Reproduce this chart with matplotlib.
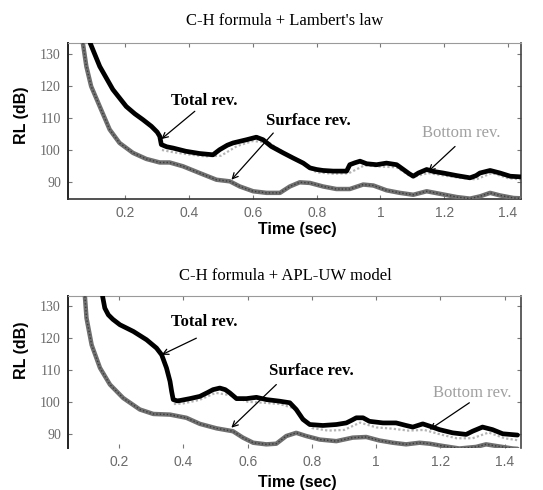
"""Reverberation level vs time: two scattering models, total / surface / bottom rev."""
import matplotlib
matplotlib.use("Agg")
import matplotlib.pyplot as plt

SERIF = "Liberation Serif"
SANS = "Liberation Sans"

# ---- upper panel: C-H formula + Lambert's law ----
t_total_a = [0.09, 0.12, 0.161, 0.203, 0.23, 0.255, 0.282, 0.3, 0.308, 0.313, 0.33, 0.35,
             0.39, 0.433, 0.475, 0.496, 0.52, 0.538, 0.58, 0.611, 0.632, 0.658, 0.695,
             0.726, 0.758, 0.779, 0.8, 0.82, 0.852, 0.894, 0.904, 0.92, 0.936, 0.957,
             0.988, 1.019, 1.051, 1.072, 1.09, 1.103, 1.119, 1.145, 1.166, 1.197, 1.239,
             1.281, 1.3, 1.312, 1.344, 1.375, 1.407, 1.44]
rl_total_a = [133.4, 126.1, 118.9, 113.6, 111.3, 109.5, 107.4, 105.6, 104.3, 101.7, 101.0,
              100.6, 99.6, 98.9, 98.5, 100.1, 101.5, 102.2, 103.2, 104.0, 103.2, 101.1,
              99.1, 97.5, 95.9, 94.4, 93.9, 93.6, 93.4, 93.4, 95.4, 96.0, 96.5, 95.7,
              95.4, 95.9, 95.4, 93.9, 92.6, 91.8, 92.8, 93.9, 93.3, 92.8, 92.0,
              91.3, 92.0, 92.8, 93.6, 92.8, 91.8, 91.6]

t_surf_a = [0.067, 0.078, 0.093, 0.12, 0.151, 0.182, 0.224, 0.266, 0.308, 0.339, 0.381,
            0.433, 0.486, 0.528, 0.559, 0.601, 0.643, 0.685, 0.716, 0.747, 0.779,
            0.82, 0.862, 0.904, 0.946, 0.978, 1.019, 1.061, 1.103, 1.145, 1.187,
            1.239, 1.281, 1.312, 1.344, 1.375, 1.417, 1.44]
rl_surf_a = [133.4, 126.1, 119.9, 113.6, 106.4, 102.2, 99.1, 97.2, 96.1, 96.1, 94.9,
             92.8, 90.7, 90.2, 88.6, 87.1, 86.6, 86.6, 88.6, 89.9, 89.7,
             88.6, 87.8, 87.8, 89.2, 88.9, 87.4, 86.6, 86.0, 87.1, 86.3,
             85.3, 84.8, 85.5, 86.6, 85.8, 85.0, 84.9]

t_bot_a = [0.315, 0.35, 0.4, 0.45, 0.5, 0.55, 0.6, 0.65, 0.7, 0.75, 0.8, 0.85, 0.9,
           0.95, 1.0, 1.05, 1.1, 1.15, 1.2, 1.25, 1.3, 1.35, 1.4, 1.44]
rl_bot_a = [100.0, 99.3, 98.6, 98.0, 98.2, 101.2, 102.8, 102.3, 99.0, 96.2, 93.0, 92.6,
            92.7, 95.2, 94.8, 94.6, 91.5, 92.8, 92.0, 91.3, 90.8, 92.8, 91.2, 90.8]

# ---- lower panel: C-H formula + APL-UW model ----
t_total_b = [0.148, 0.155, 0.166, 0.18, 0.202, 0.244, 0.285, 0.316, 0.332, 0.347, 0.358,
             0.363, 0.368, 0.38, 0.389, 0.42, 0.451, 0.475, 0.492, 0.513, 0.53, 0.544,
             0.565, 0.596, 0.627, 0.658, 0.699, 0.731, 0.751, 0.772, 0.793, 0.834,
             0.876, 0.907, 0.925, 0.938, 0.959, 0.979, 1.021, 1.062, 1.093, 1.114,
             1.145, 1.166, 1.197, 1.238, 1.28, 1.3, 1.331, 1.362, 1.394, 1.44]
rl_total_b = [133.0, 129.3, 127.2, 125.8, 124.1, 122.0, 119.4, 116.8, 114.7, 110.6, 106.4,
              103.3, 100.7, 100.3, 100.4, 101.0, 101.7, 102.9, 103.8, 104.3, 103.8, 102.8,
              101.0, 101.0, 101.4, 100.7, 100.2, 99.7, 97.6, 94.5, 92.9, 92.6,
              92.9, 93.4, 94.3, 95.0, 95.0, 93.9, 93.4, 93.4, 92.6, 92.1,
              93.1, 92.4, 91.3, 90.3, 89.8, 90.8, 92.1, 91.3, 90.0, 89.6]

t_surf_b = [0.093, 0.098, 0.114, 0.14, 0.171, 0.212, 0.264, 0.306, 0.358, 0.409,
            0.451, 0.503, 0.554, 0.585, 0.617, 0.658, 0.689, 0.72, 0.751, 0.782,
            0.824, 0.876, 0.927, 0.969, 1.01, 1.052, 1.093, 1.135, 1.166, 1.207,
            1.259, 1.311, 1.342, 1.373, 1.425, 1.44]
rl_surf_b = [133.0, 126.2, 117.8, 110.6, 105.4, 101.2, 97.6, 96.2, 96.0, 95.0,
             93.1, 91.7, 90.8, 88.8, 87.2, 86.7, 86.9, 89.3, 90.3, 89.3,
             88.2, 87.7, 88.8, 89.0, 87.9, 87.2, 86.7, 87.2, 86.9, 86.2,
             85.4, 85.9, 86.7, 86.2, 85.4, 85.3]

t_bot_b = [0.37, 0.4, 0.45, 0.5, 0.55, 0.6, 0.65, 0.7, 0.75, 0.8, 0.85, 0.9, 0.95,
           1.0, 1.05, 1.1, 1.15, 1.2, 1.25, 1.3, 1.35, 1.4, 1.44]
rl_bot_b = [99.3, 99.5, 100.6, 102.8, 102.0, 100.0, 99.7, 99.3, 97.8, 91.8, 91.0, 91.2,
            93.5, 92.0, 91.6, 91.0, 91.2, 89.8, 88.6, 88.6, 90.4, 88.6, 88.0]

x_ticks = [0.2, 0.4, 0.6, 0.8, 1.0, 1.2, 1.4]
x_ticklabels = ["0.2", "0.4", "0.6", "0.8", "1", "1.2", "1.4"]
y_ticks = [90, 100, 110, 120, 130]

panels = [
    dict(title="C-H formula + Lambert's law", rect=[0.125, 0.594, 0.834, 0.318],
         xlim=(0.02, 1.44), ylim=(84.7, 133.4),
         total=(t_total_a, rl_total_a), surf=(t_surf_a, rl_surf_a), bot=(t_bot_a, rl_bot_a),
         title_y=0.958, xlabel_y=0.531, ylabel_y=0.765,
         ann_total=((0.313, 103.4), (0.418, 112.1), (0.449, 115.2)),
         ann_surf=((0.533, 90.7), (0.664, 105.3), (0.774, 109.0)),
         ann_bot=((1.15, 93.3), (1.234, 101.1), (1.255, 105.3)),
         bottom_spine=True),
    dict(title="C-H formula + APL-UW model", rect=[0.125, 0.086, 0.834, 0.310],
         xlim=(0.04, 1.45), ylim=(85.6, 133.1),
         total=(t_total_b, rl_total_b), surf=(t_surf_b, rl_surf_b), bot=(t_bot_b, rl_bot_b),
         title_y=0.437, xlabel_y=0.016, ylabel_y=0.286,
         ann_total=((0.332, 114.7), (0.44, 119.9), (0.466, 124.9)),
         ann_surf=((0.549, 91.9), (0.689, 105.4), (0.798, 109.5)),
         ann_bot=((1.166, 91.3), (1.29, 99.7), (1.30, 102.8)),
         bottom_spine=False),
]

fig = plt.figure(figsize=(5.43, 4.9), dpi=100)
line_kw = dict(solid_joinstyle="round", solid_capstyle="round")

for p in panels:
    ax = fig.add_axes(p["rect"])
    ax.plot(*p["bot"], color="#b4b4b4", lw=1.6, ls=(0, (1, 1)), zorder=2)
    ax.plot(*p["surf"], color="#707070", lw=3.2, zorder=3, **line_kw)
    ax.plot(*p["surf"], color="#3c3c3c", lw=1.0, ls=(0, (1, 1.5)), zorder=3)
    ax.plot(*p["total"], color="black", lw=3.4, zorder=4, **line_kw)
    ax.set_xlim(*p["xlim"])
    ax.set_ylim(*p["ylim"])
    ax.set_xticks(x_ticks)
    ax.set_xticklabels(x_ticklabels, fontfamily=SANS, fontsize=10, color="#6a6a6a")
    ax.set_yticks(y_ticks)
    ax.set_yticklabels([str(v) for v in y_ticks], fontfamily=SERIF, fontsize=10,
                       color="#6a6a6a")
    ax.tick_params(direction="in", length=3, width=0.8, color="#777777",
                   top=True, right=True, pad=5)
    ax.spines["left"].set_color("#222222")
    ax.spines["left"].set_linewidth(1.4)
    ax.spines["right"].set_color("#444444")
    ax.spines["right"].set_linewidth(1.2)
    ax.spines["top"].set_color("#9a9a9a")
    ax.spines["top"].set_linewidth(0.8)
    if p["bottom_spine"]:
        ax.spines["bottom"].set_color("#333333")
        ax.spines["bottom"].set_linewidth(1.2)
    else:
        ax.spines["bottom"].set_visible(False)

    fig.text(0.525, p["title_y"], p["title"], ha="center", va="center",
             fontfamily=SERIF, fontsize=12)
    fig.text(0.547, p["xlabel_y"], "Time (sec)", ha="center", va="center",
             fontfamily=SANS, fontweight="bold", fontsize=11.5)
    fig.text(0.04, p["ylabel_y"], "RL (dB)", ha="center", va="center", rotation=90,
             fontfamily=SANS, fontweight="bold", fontsize=11.5)

    arrow = dict(arrowstyle="->", color="black", lw=0.9, shrinkA=0, shrinkB=0)
    for key, label, color, weight in [("ann_total", "Total rev.", "black", "bold"),
                                      ("ann_surf", "Surface rev.", "black", "bold"),
                                      ("ann_bot", "Bottom rev.", "#a0a0a0", "normal")]:
        head, tail, txt = p[key]
        ax.annotate("", xy=head, xytext=tail, arrowprops=arrow, zorder=5)
        ax.text(txt[0], txt[1], label, ha="center", va="center", color=color,
                fontfamily=SERIF, fontweight=weight, fontsize=12, zorder=6)

fig.savefig("out.png", dpi=100)
